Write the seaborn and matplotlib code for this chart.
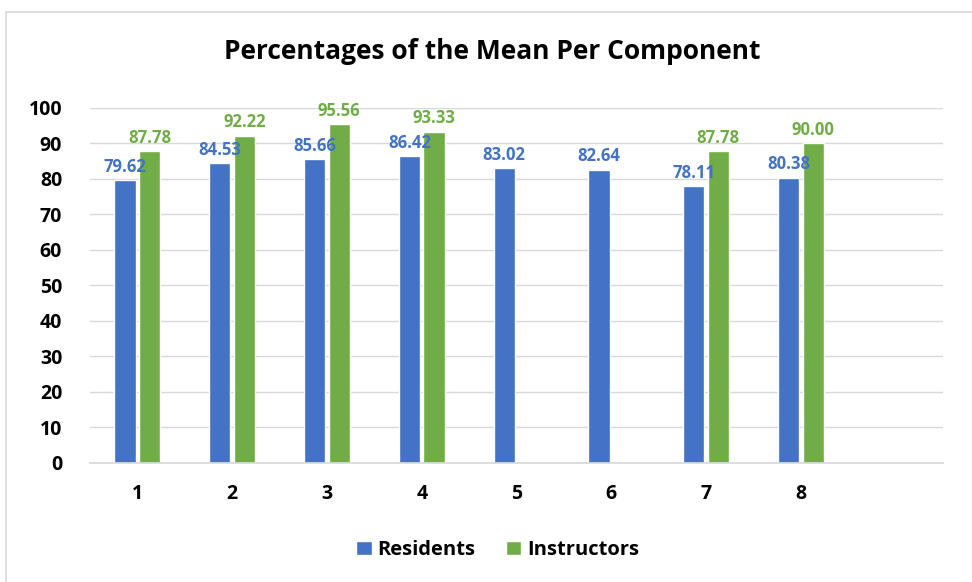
import matplotlib
matplotlib.use("Agg")
import matplotlib.pyplot as plt
import numpy as np
import pandas as pd
import seaborn as sns
from matplotlib.patches import Rectangle

components = ["1", "2", "3", "4", "5", "6", "7", "8"]
residents = [79.62, 84.53, 85.66, 86.42, 83.02, 82.64, 78.11, 80.38]
instructors = [87.78, 92.22, 95.56, 93.33, np.nan, np.nan, 87.78, 90.00]

BLUE = "#4472C4"
GREEN = "#70AD47"

df = pd.concat(
    [
        pd.DataFrame({"component": components, "value": residents, "group": "Residents"}),
        pd.DataFrame({"component": components, "value": instructors, "group": "Instructors"}),
    ],
    ignore_index=True,
)

sns.set_theme(style="white")
plt.rcParams["font.family"] = ["Open Sans", "DejaVu Sans"]
plt.rcParams["text.color"] = "black"

fig = plt.figure(figsize=(9.72, 5.82), dpi=100)
ax = fig.add_axes([0.0926, 0.2045, 0.8775, 0.61])

sns.barplot(
    data=df, x="component", y="value", hue="group", order=components,
    palette={"Residents": BLUE, "Instructors": GREEN}, saturation=1,
    width=0.52, gap=0.14, ax=ax, legend=True,
)

for container, color in zip(ax.containers, [BLUE, GREEN]):
    labels = ["" if np.isnan(v) else f"{v:.2f}" for v in container.datavalues]
    ax.bar_label(container, labels=labels, padding=3, color=color,
                 fontsize=12, fontweight="bold")

ax.set_xlim(-0.5, 8.5)
ax.set_ylim(0, 100)
ax.set_yticks(range(0, 101, 10))
ax.yaxis.grid(True, color="#D9D9D9", linewidth=1)
ax.set_axisbelow(True)
for side in ["top", "right", "left"]:
    ax.spines[side].set_visible(False)
ax.spines["bottom"].set_color("#D9D9D9")
ax.set_xlabel("")
ax.set_ylabel("")
ax.tick_params(axis="y", length=0, labelsize=14, pad=20)
ax.tick_params(axis="x", length=0, labelsize=14, pad=15)
for lbl in ax.get_xticklabels() + ax.get_yticklabels():
    lbl.set_fontweight("bold")
    lbl.set_color("black")

ax.legend_.remove()
handles, labels = ax.get_legend_handles_labels()
fig.legend(handles, labels, loc="center", bbox_to_anchor=(0.512, 0.055), ncol=2,
           frameon=False, handlelength=0.75, handleheight=0.75, columnspacing=1.5,
           handletextpad=0.3, prop={"weight": "bold", "size": 14.5})

fig.text(0.506, 0.912, "Percentages of the Mean Per Component", ha="center",
         va="center", fontsize=19, fontweight="bold", color="black")

fig.patches.append(Rectangle((0.006, -0.05), 1.1, 1.03, transform=fig.transFigure,
                             fill=False, edgecolor="#D9D9D9", linewidth=1.2))

fig.savefig("out.png", dpi=100)
